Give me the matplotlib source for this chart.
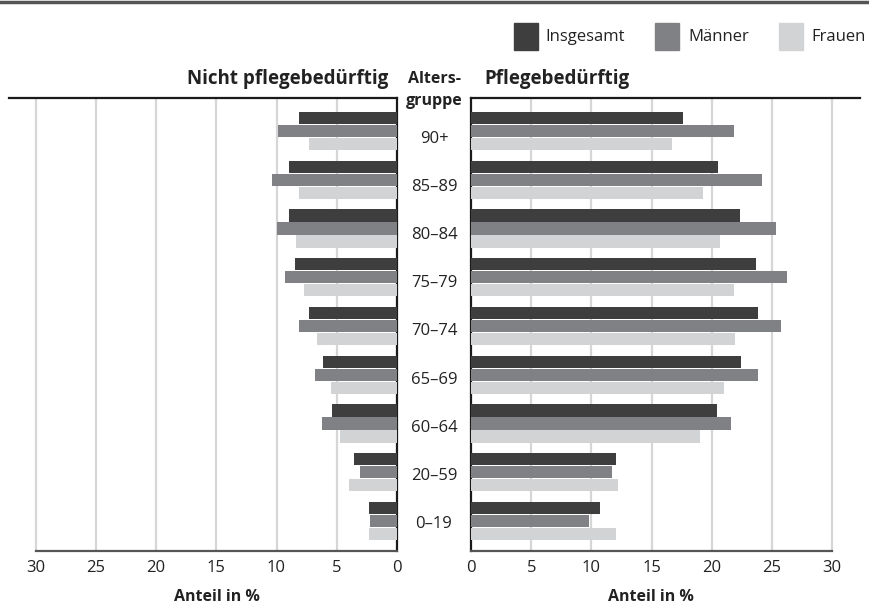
import matplotlib
matplotlib.use("Agg")
import matplotlib.pyplot as plt
from matplotlib.patches import Rectangle
import numpy as np

plt.rcParams['font.family'] = ['Open Sans', 'DejaVu Sans']

groups = ["0–19", "20–59", "60–64", "65–69", "70–74", "75–79", "80–84", "85–89", "90+"]
series = ["Insgesamt", "Männer", "Frauen"]
colors = ["#3e3e3f", "#808185", "#d2d3d5"]

# Nicht pflegebedürftig (left)
nicht_ins = [2.3, 3.6, 5.4, 6.1, 7.3, 8.5, 9.0, 9.0, 8.1]
nicht_man = [2.2, 3.1, 6.2, 6.8, 8.1, 9.3, 10.0, 10.4, 9.9]
nicht_fra = [2.3, 4.0, 4.7, 5.5, 6.6, 7.7, 8.4, 8.1, 7.3]
# Pflegebedürftig (right)
pfl_ins = [10.7, 12.0, 20.4, 22.4, 23.8, 23.7, 22.3, 20.5, 17.6]
pfl_man = [9.8, 11.7, 21.6, 23.8, 25.7, 26.2, 25.3, 24.2, 21.85]
pfl_fra = [12.0, 12.2, 19.0, 21.0, 21.9, 21.85, 20.7, 19.3, 16.7]

ticks = [0, 5, 10, 15, 20, 25, 30]

W, H = 869, 610
fig = plt.figure(figsize=(W / 100, H / 100), dpi=100)

def fx(px):
    return px / W

def fy(py):
    return 1 - py / H

top_px, bot_px = 98.3, 551.3
ax_b = fy(bot_px)
ax_h = (bot_px - top_px) / H
axL = fig.add_axes([fx(9), ax_b, fx(397 - 9), ax_h])
axR = fig.add_axes([fx(471), ax_b, fx(860 - 471), ax_h])

y = np.arange(len(groups))
off = 0.267
bh = 0.25
ylo, yhi = -0.622, 8.671

for ax, data in [(axL, [nicht_ins, nicht_man, nicht_fra]),
                 (axR, [pfl_ins, pfl_man, pfl_fra])]:
    for i, (vals, c) in enumerate(zip(data, colors)):
        ax.barh(y + off * (1 - i), vals, height=bh, color=c, zorder=3, label=series[i])
    ax.set_ylim(ylo, yhi)
    ax.set_yticks([])
    for t in ticks[1:]:
        ax.axvline(t, color="#d6d6d6", lw=1.6, zorder=1)
    ax.set_xticks(ticks)
    ax.set_xticklabels([str(t) for t in ticks], fontsize=12, color="#222222")
    ax.tick_params(axis='x', length=0, pad=6)
    ax.spines['bottom'].set_bounds(0, 30)
    ax.spines['bottom'].set_color("#555555")
    ax.spines['bottom'].set_linewidth(1.6)
    ax.spines['top'].set_color("#1a1a1a")
    ax.spines['top'].set_linewidth(1.6)
    ax.set_xlabel("Anteil in %", fontsize=11.5, fontweight='bold', color="#222222")

axL.set_xlim(32.2, 0)
axR.set_xlim(0, 32.3)
axL.spines['left'].set_visible(False)
axL.spines['right'].set_color("#1a1a1a")
axL.spines['right'].set_linewidth(1.6)
axR.spines['right'].set_visible(False)
axR.spines['left'].set_color("#1a1a1a")
axR.spines['left'].set_linewidth(1.6)
lab_y = -(589 - bot_px) / (bot_px - top_px)
axL.xaxis.set_label_coords((216.5 - 9) / 388, lab_y)
axR.xaxis.set_label_coords((651 - 471) / 389, lab_y)

# Category labels in the middle (baseline placed so digits centre slightly below the middle bar)
mid_x = fx(434)
lab_top, lab_bot = 137.0, 521.5
for i, g in enumerate(groups):
    py = lab_bot - (lab_bot - lab_top) * y[i] / (len(groups) - 1)
    fig.text(mid_x, fy(py + 6.2), g, ha='center', va='baseline', fontsize=12, color="#222222")

# Headers
fig.text(mid_x, fy(79), "Alters-", ha='center', va='center', fontsize=11.5,
         fontweight='bold', color="#222222")
fig.text(mid_x, fy(101), "gruppe", ha='center', va='center', fontsize=11.5,
         fontweight='bold', color="#222222")
fig.text(fx(388), fy(79), "Nicht pflegebedürftig", ha='right', va='center',
         fontsize=13.5, fontweight='bold', color="#222222")
fig.text(fx(484), fy(79), "Pflegebedürftig", ha='left', va='center',
         fontsize=13.5, fontweight='bold', color="#222222")

# Legend
leg_items = [(514, 545), (655, 688), (779, 811)]
for (px, tx), c, s in zip(leg_items, colors, series):
    fig.patches.append(Rectangle((fx(px), fy(50)), fx(24), 27 / H, color=c,
                                 transform=fig.transFigure, figure=fig))
    fig.text(fx(tx), fy(37), s, ha='left', va='center', fontsize=12, color="#222222")

# Top border line
fig.add_artist(plt.Line2D([0, 1], [fy(2), fy(2)], color="#555555", lw=2.5,
                          transform=fig.transFigure))

fig.savefig("out.png", dpi=100)
